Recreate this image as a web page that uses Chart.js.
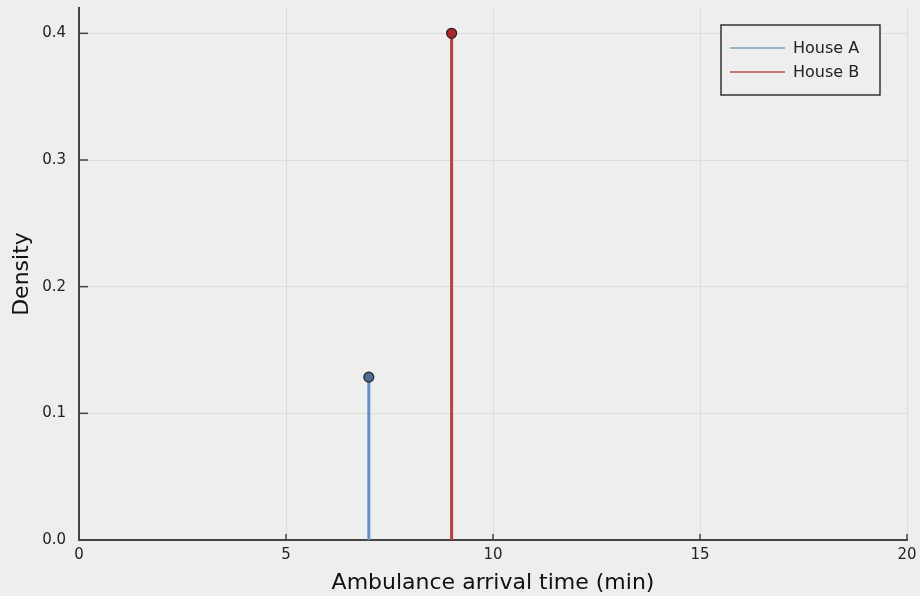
<!DOCTYPE html>
<html>
<head>
<meta charset="utf-8">
<script src="https://cdn.jsdelivr.net/npm/chart.js@4/dist/chart.umd.min.js"></script>
<style>
  html, body { margin: 0; padding: 0; background: #eeeeee; }
  #wrap { width: 920px; height: 596px; }
</style>
</head>
<body>
<div id="wrap"><canvas id="c" width="920" height="596"></canvas></div>
<script>
// Arrival-time densities for two houses (single-value distributions)
const seriesNames = ["House A", "House B"];
const arrivalTimes = [7, 9];          // minutes
const densities = [0.1286, 0.4];      // probability density at that time
const stemColors = ["#6690c4", "#c23a3a"];
const markerFill = ["#4e6d94", "#a8282e"];
const legendColors = ["#7f9ab8", "#b05050"];
const xTicks = [0, 5, 10, 15, 20];
const yTicks = [0, 0.1, 0.2, 0.3, 0.4];

const FONT = "'DejaVu Sans', sans-serif";

const datasets = seriesNames.map((name, i) => ({
  label: name,
  data: [{ x: arrivalTimes[i], y: 0 }, { x: arrivalTimes[i], y: densities[i] }],
  borderColor: stemColors[i],
  borderWidth: 3,
  pointRadius: [0, 5],
  pointBackgroundColor: markerFill[i],
  pointBorderColor: "#222222",
  pointBorderWidth: 1.2,
  showLine: true,
  tension: 0
}));

// Background, inward tick marks and the framed legend
const decor = {
  id: "decor",
  beforeDraw(chart) {
    const ctx = chart.ctx;
    ctx.save();
    ctx.fillStyle = "#eeeeee";
    ctx.fillRect(0, 0, chart.width, chart.height);
    ctx.restore();
  },
  afterDraw(chart) {
    const ctx = chart.ctx;
    const xs = chart.scales.x, ys = chart.scales.y;
    const a = chart.chartArea;
    ctx.save();
    ctx.strokeStyle = "#444444";
    ctx.lineWidth = 1.5;
    xTicks.forEach(t => {
      const px = xs.getPixelForValue(t);
      ctx.beginPath(); ctx.moveTo(px, a.bottom); ctx.lineTo(px, a.bottom - 6); ctx.stroke();
    });
    yTicks.forEach(t => {
      const py = ys.getPixelForValue(t);
      ctx.beginPath(); ctx.moveTo(a.left, py); ctx.lineTo(a.left + 9, py); ctx.stroke();
    });

    // legend
    const bx = 721, by = 25, bw = 159, bh = 70;
    ctx.fillStyle = "#eeeeee";
    ctx.fillRect(bx, by, bw, bh);
    ctx.strokeStyle = "#333333";
    ctx.lineWidth = 1.5;
    ctx.strokeRect(bx, by, bw, bh);
    ctx.font = "16px " + FONT;
    ctx.textBaseline = "middle";
    ctx.fillStyle = "#222222";
    seriesNames.forEach((name, i) => {
      const y = by + 23 + i * 24;
      ctx.strokeStyle = legendColors[i];
      ctx.lineWidth = 1.5;
      ctx.beginPath(); ctx.moveTo(bx + 9, y); ctx.lineTo(bx + 64, y); ctx.stroke();
      ctx.fillText(name, bx + 72, y + 1);
    });
    ctx.restore();
  }
};

new Chart(document.getElementById("c"), {
  type: "scatter",
  data: { datasets },
  plugins: [decor],
  options: {
    responsive: false,
    animation: false,
    devicePixelRatio: 1,
    layout: { padding: { top: 8, right: 13, left: 0, bottom: 0 } },
    plugins: { legend: { display: false }, tooltip: { enabled: false } },
    scales: {
      x: {
        type: "linear",
        min: 0, max: 20,
        afterBuildTicks: s => { s.ticks = xTicks.map(v => ({ value: v })); },
        afterFit: s => { s.height = 56; s.paddingRight = 0; s.paddingLeft = 0; },
        grid: { color: "#dcdcdc", lineWidth: 1, drawTicks: false },
        border: { color: "#444444", width: 2 },
        ticks: { color: "#222222", font: { family: FONT, size: 15 }, padding: 6, maxRotation: 0,
                 callback: v => String(v) },
        title: { display: true, text: "Ambulance arrival time (min)", color: "#111111",
                 font: { family: FONT, size: 22 }, padding: { top: 0, bottom: 0 } }
      },
      y: {
        type: "linear",
        min: 0, max: 0.42,
        afterBuildTicks: s => { s.ticks = yTicks.map(v => ({ value: v })); },
        afterFit: s => { s.width = 79; s.paddingTop = 0; s.paddingBottom = 0; },
        grid: { color: "#dcdcdc", lineWidth: 1, drawTicks: false },
        border: { color: "#444444", width: 2 },
        ticks: { color: "#222222", font: { family: FONT, size: 15 }, padding: 13,
                 callback: v => v.toFixed(1) },
        title: { display: true, text: "Density", color: "#111111",
                 font: { family: FONT, size: 22 }, padding: { top: 9, bottom: 0 } }
      }
    }
  }
});
</script>
</body>
</html>
